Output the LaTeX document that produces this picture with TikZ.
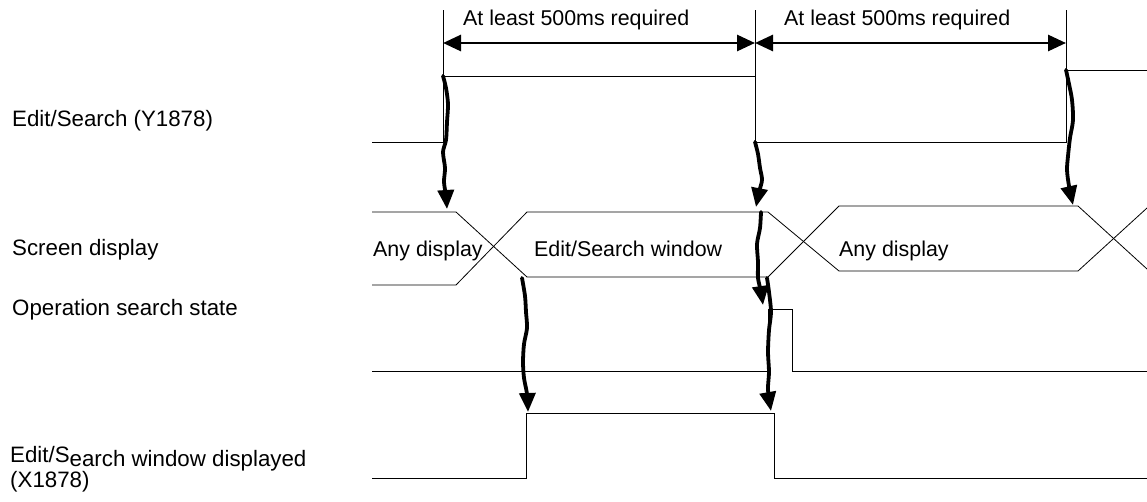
\documentclass[tikz,border=0pt]{standalone}
\usepackage{fontspec}
\setmainfont{Liberation Sans}
\usetikzlibrary{arrows.meta}
\begin{document}
\begin{tikzpicture}[x=1pt,y=-1pt,
  sig/.style={line width=0.8pt,line join=miter},
  dimarrow/.style={line width=2.8pt,{Triangle[length=18pt,width=16pt]}-{Triangle[length=18pt,width=16pt]}},
  cause/.style={line width=3.8pt,line cap=round,line join=round,-{Triangle[length=19pt,width=16pt]}},
  lbl/.style={inner sep=0pt,anchor=base west,font=\fontsize{21.4}{24}\selectfont},
  side/.style={lbl,font=\fontsize{22.3}{25}\selectfont}]
\useasboundingbox (0,0) rectangle (1147,501);

% ---------- labels ----------
\node[side] (lY) at (12,126) {Edit/Search (Y1878)};
\node[side] (lS) at (12,255) {Screen display};
\node[side] (lO) at (12,315) {Operation search state};
\node[side] (lX1) at (10,462) {Edit/S\raisebox{-4.5pt}{earch window displayed}};
\node[side] (lX2) at (10,487) {(X1878)};

% ---------- timing references ----------
\coordinate (t1top) at (443,10);
\coordinate (t2top) at (755,10);
\coordinate (t3top) at (1066,10);
\draw[sig] (t1top) -- (443,142);
\draw[sig] (t2top) -- (755,142);
\draw[sig] (t3top) -- (1066,142);
\coordinate (d1) at (443,43);
\coordinate (d2) at (755,43);
\coordinate (d3) at (1066,43);
\draw[dimarrow] (d1) -- (d2);
\draw[dimarrow] (d2) -- (d3);
\node[lbl] (req1) at (463,25) {At least 500ms required};
\node[lbl] (req2) at (784,25) {At least 500ms required};

% ---------- Y1878 ----------
\coordinate (yR1) at (443,76);
\coordinate (yF1) at (755,142);
\coordinate (yR2) at (1066,70);
\draw[sig] (372,142) -- (443,142) -- (yR1) -- (755,76) -- (yF1) -- (1066,142) -- (yR2) -- (1147,70);

% ---------- Screen display ----------
\draw[sig] (372,212) -- (456,212) -- (527,277) -- (768,277) -- (839,206) -- (1078,206) -- (1147,269);
\draw[sig] (372,285) -- (456,285) -- (527,212) -- (768,212) -- (839,271) -- (1078,271) -- (1147,208);
\node[lbl] (any1) at (373,256) {Any display};
\node[lbl] (esw) at (534,256) {Edit/Search window};
\node[lbl] (any2) at (839,256) {Any display};
\coordinate (sA) at (447,209);
\coordinate (sB) at (522,278);
\coordinate (sC) at (756,207);
\coordinate (sD) at (761,212);
\coordinate (sE) at (767,278);
\coordinate (sF) at (1073,205);

% ---------- Operation search state ----------
\coordinate (oP) at (763,305);
\draw[sig] (372,371) -- (768,371) -- (768,309) -- (792,309) -- (792,371) -- (1147,371);

% ---------- X1878 ----------
\coordinate (xR) at (528,412);
\coordinate (xF) at (771,411);
\draw[sig] (372,478) -- (526,478) -- (526,413) -- (774,413) -- (774,478) -- (1147,478);

% ---------- cause arrows ----------
\draw[cause] plot[smooth,tension=0.5] coordinates {(yR1) (446,88) (448,104) (447,122) (446,140) (443,152) (445,168) (444,182) (446,196) (sA)};
\draw[cause] plot[smooth,tension=0.5] coordinates {(sB) (525,296) (526,312) (527,328) (524,344) (523,362) (524,378) (527,394) (xR)};
\draw[cause] plot[smooth,tension=0.5] coordinates {(yF1) (758,154) (760,168) (762,180) (759,192) (sC)};
\draw[cause] plot[smooth,tension=0.5] coordinates {(sD) (760,228) (757,244) (758,262) (758,278) (761,292) (oP)};
\draw[cause] plot[smooth,tension=0.5] coordinates {(sE) (769,292) (771,312) (769,330) (768,352) (769,372) (768,390) (xF)};
\draw[cause] plot[smooth,tension=0.5] coordinates {(yR2) (1069,84) (1072,100) (1073,120) (1070,138) (1068,156) (1067,170) (1069,186) (sF)};
\end{tikzpicture}
\end{document}
